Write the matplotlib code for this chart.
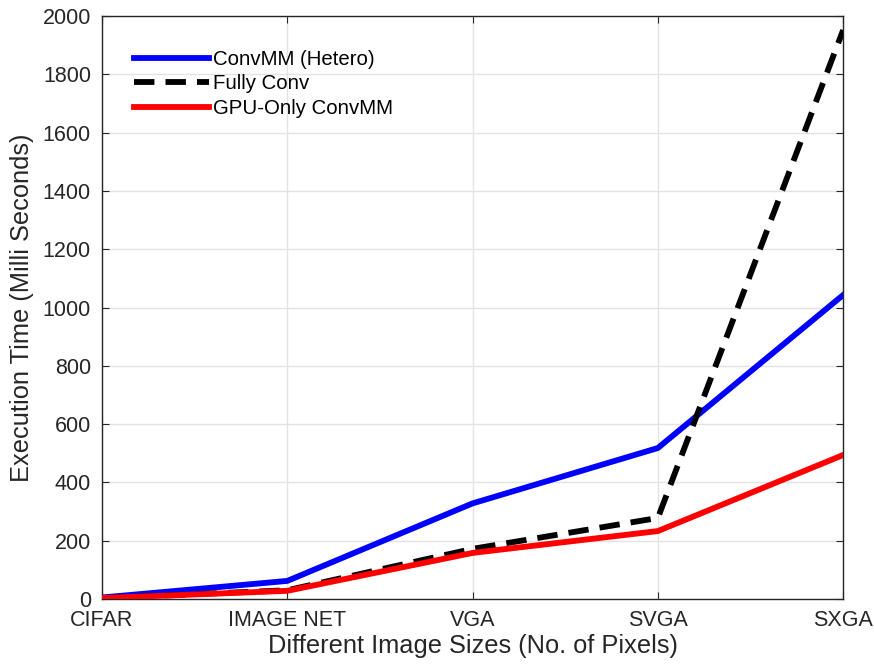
import matplotlib
matplotlib.use("Agg")
import matplotlib.pyplot as plt

# ── DATA ──────────────────────────────────────────────────────────────────────
categories = ["CIFAR", "IMAGE NET", "VGA", "SVGA", "SXGA"]
hetero     = [5, 62, 328, 518, 1043]
fully_conv = [3, 30, 172, 278, 1952]
gpu_only   = [3, 28, 158, 233, 494]

plt.rcParams["font.family"] = ["Liberation Sans", "DejaVu Sans"]

fig = plt.figure(figsize=(8.74, 6.70), dpi=100)
ax = fig.add_axes([0.1167, 0.106, 0.848, 0.870])

x = range(len(categories))
ax.plot(x, hetero, color="#0000ff", lw=4.2, label="ConvMM (Hetero)", zorder=3)
ax.plot(x, fully_conv, color="black", lw=4.2, linestyle=(0, (3.5, 1.9)),
        label="Fully Conv", zorder=3)
ax.plot(x, gpu_only, color="#ff0000", lw=4.2, label="GPU-Only ConvMM", zorder=4)

# ── STYLING (MATLAB-like) ─────────────────────────────────────────────────────
ax.set_xlim(0, len(categories) - 1)
ax.set_ylim(0, 2000)
ax.set_xticks(list(x))
ax.set_xticklabels(categories)
ax.set_yticks(range(0, 2001, 200))
ax.tick_params(direction="in", top=True, right=True, labelsize=15.5,
               colors="#262626", length=5, pad=8)
ax.grid(True, color="#e3e3e3", linewidth=1.0)
ax.set_axisbelow(True)
for s in ax.spines.values():
    s.set_color("#262626")
    s.set_linewidth(1.0)

ax.set_xlabel("Different Image Sizes (No. of Pixels)", fontsize=18.3, color="#262626", labelpad=2)
ax.set_ylabel("Execution Time (Milli Seconds)", fontsize=18.3, color="#262626", labelpad=6)

ax.legend(loc="upper left", bbox_to_anchor=(0.043, 0.942), frameon=False,
          fontsize=14.7, handlelength=3.7, handletextpad=0.2, labelspacing=0.27,
          borderaxespad=0.0, borderpad=0.0)

plt.savefig("out.png", dpi=100)
